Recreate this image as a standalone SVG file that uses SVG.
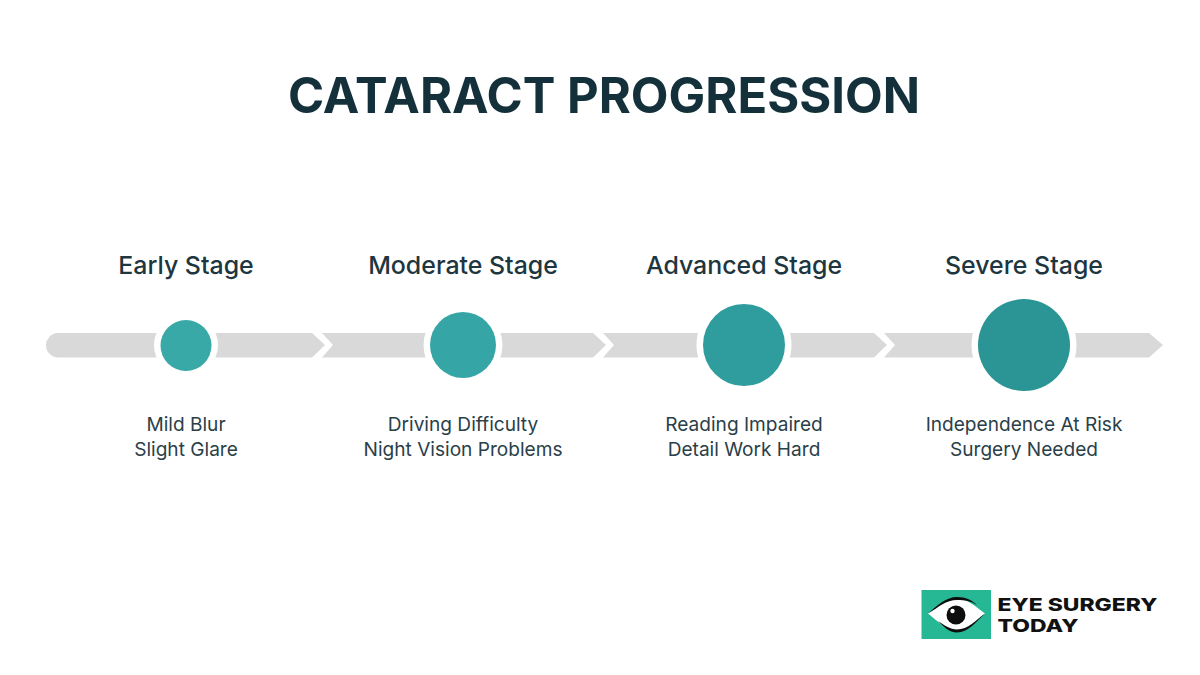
<svg xmlns="http://www.w3.org/2000/svg" width="1200" height="675" viewBox="0 0 1200 675">
<style>
text{font-family:"Inter","Open Sans","Liberation Sans",sans-serif;text-anchor:middle}
.t{font-size:49px;font-weight:700;fill:#14303a}
.h{font-size:24.900px;font-weight:500;fill:#1d3640}
.b{font-size:19.100px;font-weight:400;fill:#2a4049}
.s{fill:#d9d9d9}
.halo{fill:#fff}
.l{font-size:17.500px;font-weight:800;fill:#111;text-anchor:start}
</style>
<rect width="1200" height="675" fill="#fff"/>
<g id="connectors">
<path class="s" d="M58 333H312L325 345L312 357.5H58A12.250 12.250 0 0 1 46 345.250A12.250 12.250 0 0 1 58 333Z"/>
<path class="s" d="M322 333H593L606 345L593 357.500H322L333 345Z"/>
<path class="s" d="M603 333H874L887 345L874 357.500H603L614 345Z"/>
<path class="s" d="M884 333H1149L1163 345L1149 357.500H884L895 345Z"/>
</g>
<text class="t" x="604" y="113" textLength="632" lengthAdjust="spacingAndGlyphs">CATARACT PROGRESSION</text>
<g id="stage-1">
<circle class="halo" cx="186" cy="345" r="32"/><circle cx="186" cy="345.500" r="25.500" fill="#38a9a7"/>
<text class="h" x="186" y="274.400">Early Stage</text>
<text class="b" x="186" y="431">Mild Blur</text><text class="b" x="186" y="456">Slight Glare</text>
</g>
<g id="stage-2">
<circle class="halo" cx="463" cy="345" r="39.500"/><circle cx="463" cy="345" r="33" fill="#35a5a5"/>
<text class="h" x="463" y="274.400">Moderate Stage</text>
<text class="b" x="463" y="431">Driving Difficulty</text><text class="b" x="463" y="456">Night Vision Problems</text>
</g>
<g id="stage-3">
<circle class="halo" cx="744" cy="345" r="47.500"/><circle cx="744" cy="345" r="41" fill="#2f9c9d"/>
<text class="h" x="744" y="274.400">Advanced Stage</text>
<text class="b" x="744" y="431">Reading Impaired</text><text class="b" x="744" y="456">Detail Work Hard</text>
</g>
<g id="stage-4">
<circle class="halo" cx="1024" cy="345" r="52.500"/><circle cx="1024" cy="345" r="46" fill="#2b9596"/>
<text class="h" x="1024" y="274.400">Severe Stage</text>
<text class="b" x="1024" y="431">Independence At Risk</text><text class="b" x="1024" y="456">Surgery Needed</text>
</g>
<g id="logo">
<rect x="921.500" y="590" width="69.500" height="49" fill="#26b795"/>
<path d="M928 613.500C938 607 946 599 957 599C968 599 976 607 985 613.500C976 620 968 631 957 631C946 631 938 621 928 613.500Z" fill="#fff"/>
<path d="M928 613.500C938 605 946 597 957 597C966 597 972 600 977 605C971 601 965 600 957 600C946 600 939 607 928 613.500ZM938 621C943 626 949 632.500 957 632.500C968 632.500 976 622 985 613.500C976 620 968 629.500 957 629.500C950 629.500 944 625 938 621Z" fill="#0d0d0d"/>
<circle cx="956" cy="615" r="9.500" fill="#0d0d0d"/><circle cx="952.500" cy="611" r="2.200" fill="#fff"/>
<text class="l" x="997.500" y="610.500" textLength="160" lengthAdjust="spacingAndGlyphs">EYE SURGERY</text>
<text class="l" x="997.500" y="632" textLength="81" lengthAdjust="spacingAndGlyphs">TODAY</text>
</g>
</svg>
